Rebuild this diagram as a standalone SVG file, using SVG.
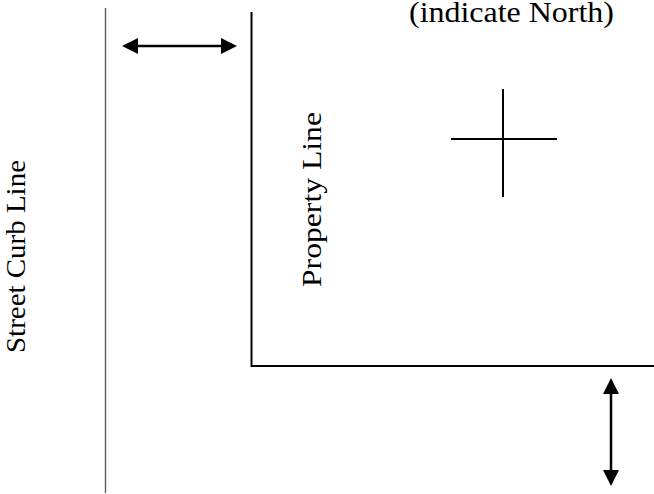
<svg xmlns="http://www.w3.org/2000/svg" width="654" height="494" viewBox="0 0 654 494">
<style>
.t{font-family:"Liberation Serif","Times New Roman",serif;font-size:27.5px;fill:#000}
.ln{stroke:#000;stroke-width:2;fill:none}
.arr{stroke:#000;stroke-width:2.5;fill:none}
</style>
<defs>
<marker id="ah" viewBox="0 0 16 16" refX="2" refY="8" markerWidth="16" markerHeight="16" markerUnits="userSpaceOnUse" orient="auto-start-reverse">
<path d="M0,0 L16,8 L0,16 Z" fill="#000"/>
</marker>
</defs>
<rect width="654" height="494" fill="#fff"/>
<g id="street-curb-line">
<line x1="105.5" y1="8" x2="105.5" y2="493" stroke="#555" stroke-width="1.3"/>
<text class="t" transform="translate(25,353) rotate(-90)" textLength="193" lengthAdjust="spacingAndGlyphs">Street Curb Line</text>
</g>
<g id="property-line">
<polyline class="ln" points="251.5,12 251.5,366 654,366"/>
<text class="t" transform="translate(321,287) rotate(-90)" textLength="175" lengthAdjust="spacingAndGlyphs">Property Line</text>
</g>
<g id="north">
<line class="ln" x1="503" y1="89" x2="503" y2="197"/>
<line class="ln" x1="451" y1="139" x2="557" y2="139"/>
<text class="t" x="409" y="22" style="font-size:29px" textLength="205" lengthAdjust="spacingAndGlyphs">(indicate North)</text>
</g>
<g id="connectors">
<line class="arr" x1="136" y1="46" x2="223" y2="46" marker-start="url(#ah)" marker-end="url(#ah)"/>
<line class="arr" x1="611" y1="392" x2="611" y2="472" marker-start="url(#ah)" marker-end="url(#ah)"/>
</g>
</svg>
